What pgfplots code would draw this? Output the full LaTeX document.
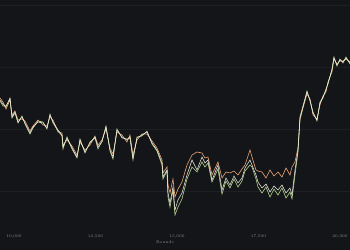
\documentclass[border=0pt]{standalone}
\usepackage{pgfplots}
\usepackage{pgfplotstable}
\pgfplotsset{compat=1.18}
\definecolor{bg}{HTML}{141518}
\definecolor{gridc}{HTML}{1E2024}
\definecolor{tickc}{HTML}{8A8C90}
\definecolor{wline}{HTML}{F2F0E6}
\definecolor{oline}{HTML}{EDA677}
\definecolor{gline}{HTML}{B5D58E}
\pgfplotstableread{
x v
9570 137
9662 133
9754 130
9877 139
9938 120
10030 125
10122 115
10245 120
10337 114
10490 104
10582 110
10735 115
10889 114
11011 109
11104 122
11196 115
11349 107
11472 102
11502 90
11625 99
11778 89
11932 80
12024 97
12177 85
12330 94
12484 100
12576 90
12698 95
12821 110
12944 87
13036 80
13158 107
13312 100
13465 97
13557 100
13649 79
13772 99
13925 102
14078 105
14232 94
14385 87
14539 74
14569 60
14692 67
14723 44
14784 34
14876 50
14937 27
15029 37
15152 44
15305 62
15459 77
15612 67
15765 80
15857 74
15949 77
16072 57
16256 72
16379 47
16501 59
16624 52
16747 61
16869 54
16992 59
17084 69
17238 77
17299 72
17422 62
17483 55
17606 49
17728 53
17851 45
17974 51
18096 47
18219 52
18342 44
18464 49
18526 42
18618 67
18710 87
18771 119
18863 130
18986 145
19078 137
19170 124
19292 117
19384 134
19476 140
19568 147
19630 154
19752 167
19813 179
19905 172
19998 177
20090 175
20182 179
20305 174
}\whitedata
\pgfplotstableread{
x v
9570 139
9662 135
9754 128
9877 137
9938 122
10030 126
10122 117
10245 118
10337 116
10490 106
10582 111
10735 117
10889 112
11011 111
11104 120
11196 117
11349 105
11472 104
11502 92
11625 97
11778 91
11932 82
12024 95
12177 87
12330 92
12484 101
12576 92
12698 97
12821 108
12944 89
13036 83
13158 105
13312 102
13465 95
13557 102
13649 82
13772 97
13925 103
14078 103
14232 96
14385 89
14539 77
14569 64
14692 70
14723 52
14784 44
14876 58
14937 40
15029 48
15152 55
15305 72
15459 82
15612 85
15765 84
15857 79
15949 80
16072 62
16256 75
16379 59
16501 65
16624 64
16747 66
16869 62
16992 68
17084 72
17238 87
17299 80
17422 67
17483 66
17606 65
17728 59
17851 67
17974 61
18096 65
18219 60
18342 69
18464 62
18526 70
18618 75
18710 89
18771 117
18863 129
18986 143
19078 138
19170 122
19292 118
19384 132
19476 141
19568 145
19630 155
19752 165
19813 178
19905 173
19998 176
20090 176
20182 178
20305 175
}\orangedata
\pgfplotstableread{
x v
9570 136
9662 131
9754 131
9877 138
9938 119
10030 124
10122 114
10245 121
10337 113
10490 103
10582 109
10735 116
10889 115
11011 108
11104 123
11196 114
11349 106
11472 101
11502 88
11625 100
11778 88
11932 79
12024 98
12177 84
12330 95
12484 99
12576 88
12698 96
12821 111
12944 86
13036 78
13158 108
13312 99
13465 98
13557 99
13649 77
13772 100
13925 101
14078 106
14232 93
14385 86
14539 72
14569 58
14692 66
14723 40
14784 30
14876 47
14937 22
15029 30
15152 38
15305 58
15459 70
15612 65
15765 75
15857 70
15949 74
16072 55
16256 68
16379 43
16501 56
16624 49
16747 58
16869 50
16992 56
17084 66
17238 72
17299 70
17422 58
17483 50
17606 44
17728 50
17851 40
17974 48
18096 42
18219 49
18342 39
18464 45
18526 38
18618 62
18710 85
18771 120
18863 131
18986 146
19078 136
19170 125
19292 116
19384 135
19476 139
19568 148
19630 153
19752 168
19813 180
19905 171
19998 178
20090 174
20182 180
20305 173
}\greendata
\begin{document}
\begin{tikzpicture}
\fill[bg] (0,0) rectangle (350bp,250bp);
\useasboundingbox (0,0) rectangle (350bp,250bp);
\begin{axis}[
  at={(0,18bp)}, anchor=south west,
  scale only axis, width=350bp, height=232bp,
  xmin=9570, xmax=20305, ymin=5, ymax=237,
  axis line style={draw=none},
  scaled x ticks=false,
  xtick={10000,12500,15000,17500,20000},
  xticklabels={{10,000},{12,500},{15,000},{17,500},{20,000}},
  xticklabel style={font=\fontsize{4}{4}\selectfont, text=tickc, yshift=1bp},
  ytick={46,108,170,232}, yticklabels={},
  major tick length=0pt,
  ymajorgrids, grid style={gridc, line width=0.5pt},
  xlabel={Rounds},
  xlabel style={font=\fontsize{4}{4}\selectfont, text=tickc, yshift=4bp, xshift=-10bp},
  clip=true,
]
\addplot[oline, line width=0.6pt] table[x=x,y=v] {\orangedata};
\addplot[gline, line width=0.6pt] table[x=x,y=v] {\greendata};
\addplot[wline, line width=0.5pt] table[x=x,y=v] {\whitedata};
\end{axis}
\end{tikzpicture}
\end{document}
